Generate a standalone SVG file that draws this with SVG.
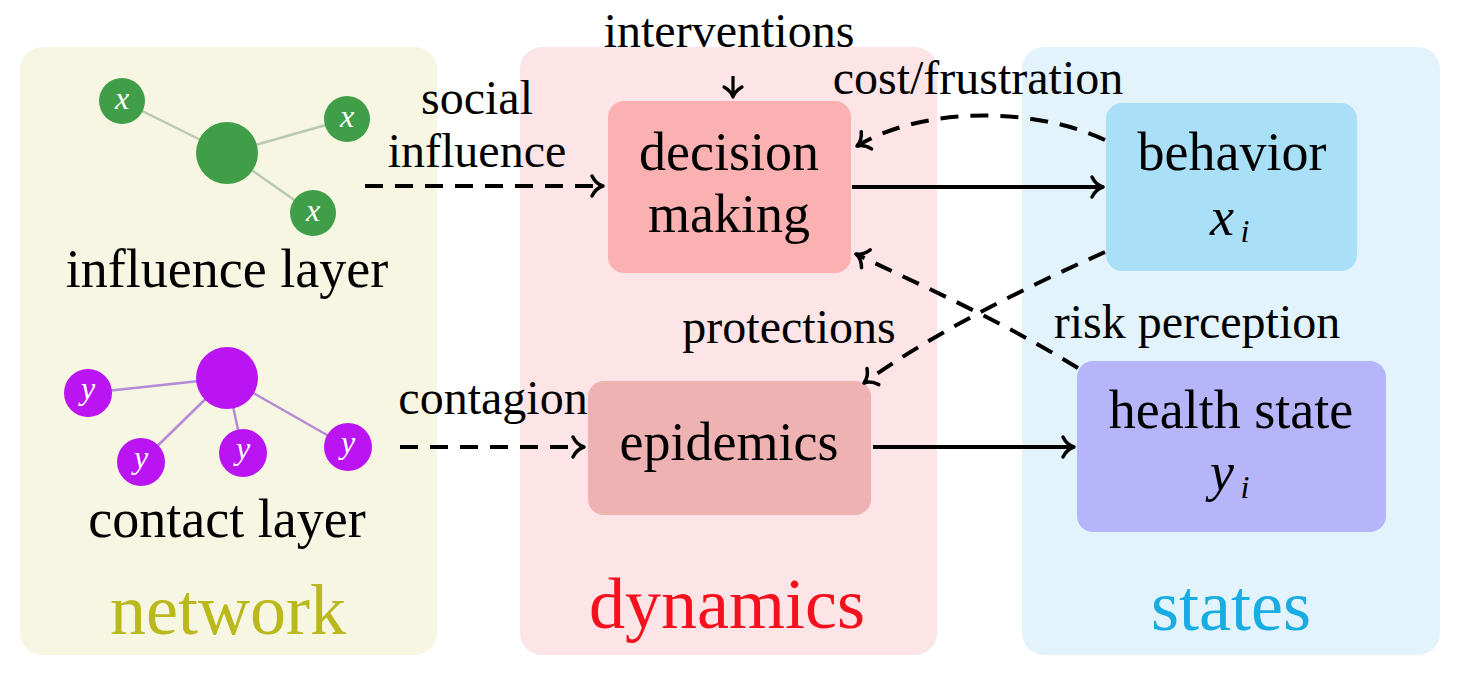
<svg xmlns="http://www.w3.org/2000/svg" width="1465" height="698" viewBox="0 0 1465 698">
<style>
text{fill:#000;font-family:'Liberation Serif','Times New Roman',serif}
.lbl{font-size:48px}
.box{font-size:54px}
.title{font-size:72px}
.math{font-style:italic}
.dash{fill:none;stroke:#000;stroke-width:4;stroke-dasharray:18 12}
.solid{fill:none;stroke:#000;stroke-width:4}
.ge{stroke:#b9c9b0;stroke-width:2.5}
.pe{stroke:#b58ad6;stroke-width:2.5}
.gn{fill:#3f9e47}
.pn{fill:#bb14f2}
.nl{font-size:32px;font-style:italic;fill:#fff;text-anchor:middle}
</style>
<defs>
<marker id="ah" markerWidth="14" markerHeight="22" refX="10" refY="0" orient="auto" markerUnits="userSpaceOnUse" overflow="visible">
<path d="M-1,-10 Q3,-2 10,0 Q3,2 -1,10" fill="none" stroke="#000" stroke-width="3.5" stroke-linecap="round" stroke-linejoin="round"/>
</marker>
<marker id="ahs" markerWidth="12" markerHeight="20" refX="9" refY="0" orient="auto" markerUnits="userSpaceOnUse" overflow="visible">
<path d="M-1,-9 Q3,-2 9,0 Q3,2 -1,9" fill="none" stroke="#000" stroke-width="3.2" stroke-linecap="round" stroke-linejoin="round"/>
</marker>
</defs>
<rect width="1465" height="698" fill="#fff"/>
<g id="panel-network">
<rect x="20" y="47" width="417" height="608" rx="22" fill="#f7f6e3"/>
<text class="title" x="228" y="634" text-anchor="middle" style="fill:#b9b81c">network</text>
</g>
<g id="panel-dynamics">
<rect x="520" y="47" width="417" height="608" rx="22" fill="#fde4e6"/>
<text class="title" x="727" y="628" text-anchor="middle" style="fill:#f4101c">dynamics</text>
</g>
<g id="panel-states">
<rect x="1022" y="47" width="418" height="608" rx="22" fill="#e2f3fc"/>
<text class="title" x="1231" y="630" text-anchor="middle" style="fill:#18ade2">states</text>
</g>
<g id="influence-layer">
<line class="ge" x1="122" y1="101" x2="227" y2="153"/>
<line class="ge" x1="227" y1="153" x2="347" y2="119"/>
<line class="ge" x1="227" y1="153" x2="313" y2="213"/>
<circle class="gn" cx="227" cy="153" r="31"/>
<circle class="gn" cx="122" cy="101" r="23"/>
<circle class="gn" cx="347" cy="119" r="23"/>
<circle class="gn" cx="313" cy="213" r="23"/>
<text class="nl" x="122" y="109">x</text>
<text class="nl" x="347" y="127">x</text>
<text class="nl" x="313" y="221">x</text>
<text class="box" x="227" y="287" text-anchor="middle">influence layer</text>
</g>
<g id="contact-layer">
<line class="pe" x1="227" y1="378" x2="88" y2="393"/>
<line class="pe" x1="227" y1="378" x2="141" y2="462"/>
<line class="pe" x1="227" y1="378" x2="243" y2="453"/>
<line class="pe" x1="227" y1="378" x2="348" y2="447"/>
<circle class="pn" cx="227" cy="378" r="31"/>
<circle class="pn" cx="88" cy="393" r="24"/>
<circle class="pn" cx="141" cy="462" r="24"/>
<circle class="pn" cx="243" cy="453" r="24"/>
<circle class="pn" cx="348" cy="447" r="24"/>
<text class="nl" x="88" y="399">y</text>
<text class="nl" x="141" y="468">y</text>
<text class="nl" x="243" y="459">y</text>
<text class="nl" x="348" y="453">y</text>
<text class="box" x="227" y="537" text-anchor="middle">contact layer</text>
</g>
<g id="decision-making">
<rect x="608" y="101" width="243" height="172" rx="16" fill="#fbb1b1"/>
<text class="box" x="729" y="170" text-anchor="middle">decision</text>
<text class="box" x="729" y="232" text-anchor="middle">making</text>
</g>
<g id="epidemics">
<rect x="588" y="381" width="283" height="134" rx="16" fill="#eeb2b3"/>
<text class="box" x="729" y="460" text-anchor="middle">epidemics</text>
</g>
<g id="behavior">
<rect x="1106" y="103" width="251" height="168" rx="16" fill="#a9e0f7"/>
<text class="box" x="1232" y="170" text-anchor="middle">behavior</text>
<text class="box math" x="1222" y="235" text-anchor="middle">x</text>
<text class="math" x="1245" y="242" style="font-size:32px" text-anchor="middle">i</text>
</g>
<g id="health-state">
<rect x="1077" y="361" width="309" height="171" rx="16" fill="#b6b5f9"/>
<text class="box" x="1231" y="428" text-anchor="middle">health state</text>
<text class="box math" x="1222" y="490" text-anchor="middle">y</text>
<text class="math" x="1245" y="498" style="font-size:32px" text-anchor="middle">i</text>
</g>
<g id="connectors">
<path class="dash" d="M365,186 H603" marker-end="url(#ah)"/>
<path class="dash" d="M400,447 H584" marker-end="url(#ah)"/>
<path class="solid" d="M733,76 V97" style="stroke-width:3.2" marker-end="url(#ahs)"/>
<path class="solid" d="M852,187 H1103" marker-end="url(#ah)"/>
<path class="solid" d="M873,447 H1074" marker-end="url(#ah)"/>
<path class="dash" d="M1105,140 C1030,105 920,108 857,146" marker-end="url(#ah)"/>
<path class="dash" d="M1105,252 C1020,290 930,335 864,383" marker-end="url(#ah)"/>
<path class="dash" d="M1078,368 C1000,320 920,285 856,254" marker-end="url(#ah)"/>
</g>
<g id="labels">
<text class="lbl" x="729" y="47" text-anchor="middle">interventions</text>
<text class="lbl" x="978" y="94" text-anchor="middle">cost/frustration</text>
<text class="lbl" x="477" y="114" text-anchor="middle">social</text>
<text class="lbl" x="477" y="167" text-anchor="middle">influence</text>
<text class="lbl" x="493" y="414" text-anchor="middle">contagion</text>
<text class="lbl" x="789" y="343" text-anchor="middle">protections</text>
<text class="lbl" x="1197" y="338" text-anchor="middle">risk perception</text>
</g>
</svg>
